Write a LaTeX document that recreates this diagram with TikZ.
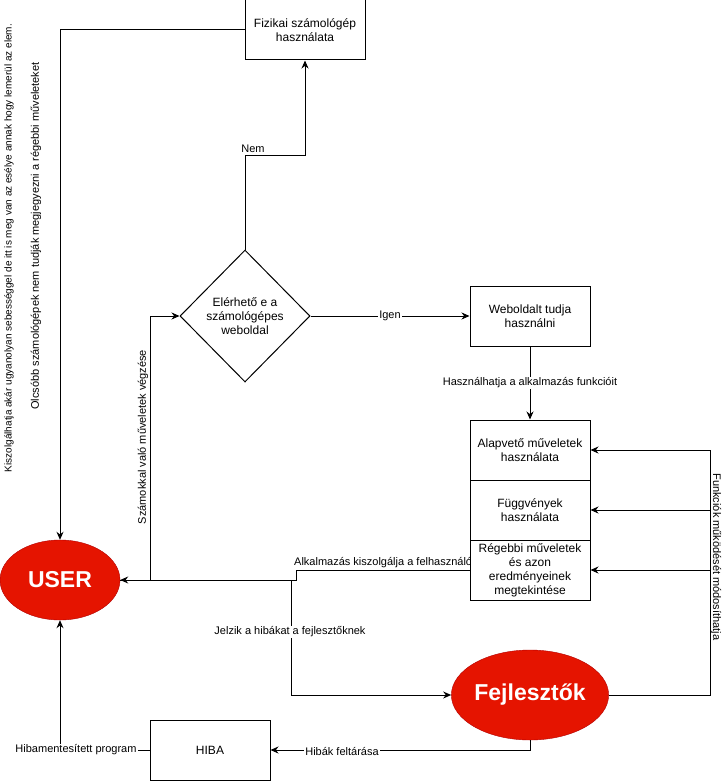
\documentclass[tikz,border=0pt]{standalone}
\usepackage{fontspec}
\setmainfont{Liberation Sans}
\usetikzlibrary{arrows.meta,shapes.geometric}
\definecolor{devred}{HTML}{E51400}
\definecolor{devredline}{HTML}{B20000}
\begin{document}
\begin{tikzpicture}[x=1pt,y=-1pt,
 box/.style={draw,fill=white,line width=1pt,minimum width=120pt,minimum height=60pt,inner sep=2pt,align=center,font=\fontsize{12}{14}\selectfont},
 decide/.style={diamond,draw,fill=white,line width=1pt,minimum width=130pt,minimum height=132pt,inner sep=0pt,align=center,font=\fontsize{12}{14}\selectfont},
 actor/.style={ellipse,draw=devredline,fill=devred,text=white,font=\fontsize{23}{26}\selectfont\bfseries,inner sep=0pt},
 conn/.style={line width=1pt,-{Stealth[length=8pt,width=7pt]}},
 plain/.style={line width=1pt},
 lbl/.style={font=\fontsize{11}{13}\selectfont,inner sep=1pt},
 lblbg/.style={lbl,fill=white}]
\useasboundingbox (0,0) rectangle (727,781);

% label partly hidden behind the box
\node[lbl,anchor=west] (lalk) at (293,563) {Alkalmazás kiszolgálja a felhasználót};

% nodes
\node[box] (fiz) at (305,30) {Fizikai számológép\\használata};
\node[decide] (elerh) at (245,316) {Elérhető e a\\számológépes\\weboldal};
\node[box] (web) at (530,316) {Weboldalt tudja\\használni};
\node[box] (alap) at (530,450) {Alapvető műveletek\\használata};
\node[box] (fugg) at (530,510) {Függvények\\használata};
\node[box] (regi) at (530,570) {Régebbi műveletek\\és azon\\eredményeinek\\megtekintése};
\node[actor,minimum width=120pt,minimum height=80pt] (user) at (60,580) {USER};
\node[actor,minimum width=140pt,minimum height=90pt] (fej) at (530,695) {Fejlesztők};
\node[box] (hiba) at (210,750) {HIBA};

% coordinates
\coordinate (ctl) at (60,30);
\coordinate (cnem) at (245,155);
\coordinate (calk1) at (296,570);
\coordinate (calk2) at (296,580);
\coordinate (cjel) at (291,580);
\coordinate (cszam) at (150,580);
\coordinate (cfr) at (710,695);
\coordinate (ck1) at (710,450);
\coordinate (ck2) at (710,510);
\coordinate (ck3) at (710,570);

% connectors
\draw[conn] (fiz.west) -- (ctl) -- (user.north);
\node[lbl,font=\fontsize{10}{12}\selectfont,rotate=90] (lkisz) at (9,248) {Kiszolgálhatja akár ugyanolyan sebességgel de itt is meg van az esélye annak hogy lemerül az elem.};
\node[lbl,rotate=90] (lolcs) at (36,236) {Olcsóbb számológépek nem tudják megjegyezni a régebbi műveleteket};

\draw[conn] (elerh.north) -- (cnem) -| (fiz.south);
\node[lbl] (lnem) at (253,149) {Nem};

\draw[conn] (elerh.east) -- (web.west) node[lblbg,midway] (ligen) {Igen};
\draw[conn] (web.south) -- (alap.north) node[lblbg,midway] (lhasz) {Használhatja a alkalmazás funkcióit};

\draw[conn] (user.east) -- (cszam) |- (elerh.west);
\node[lbl,rotate=90] (lszam) at (143,437) {Számokkal való műveletek végzése};

\draw[conn] (regi.west) -- (calk1) -- (calk2) -- (user.east);

\draw[conn] (cjel) |- (fej.west);
\node[lblbg] (ljel) at (290,632) {Jelzik a hibákat a fejlesztőknek};

\draw[plain] (fej.east) -- (cfr) -- (ck1);
\draw[conn] (ck1) -- (alap.east);
\draw[conn] (ck2) -- (fugg.east);
\draw[conn] (ck3) -- (regi.east);
\node[lbl,rotate=-90] (lfunk) at (716,557) {Funkciók működését módosíthatja};

\draw[conn] (fej.south) |- (hiba.east);
\node[lblbg] (lhib) at (342,751) {Hibák feltárása};

\draw[conn] (hiba.west) -| (user.south);
\node[lblbg] (lhm) at (76,750) {Hibamentesített program};
\end{tikzpicture}
\end{document}
